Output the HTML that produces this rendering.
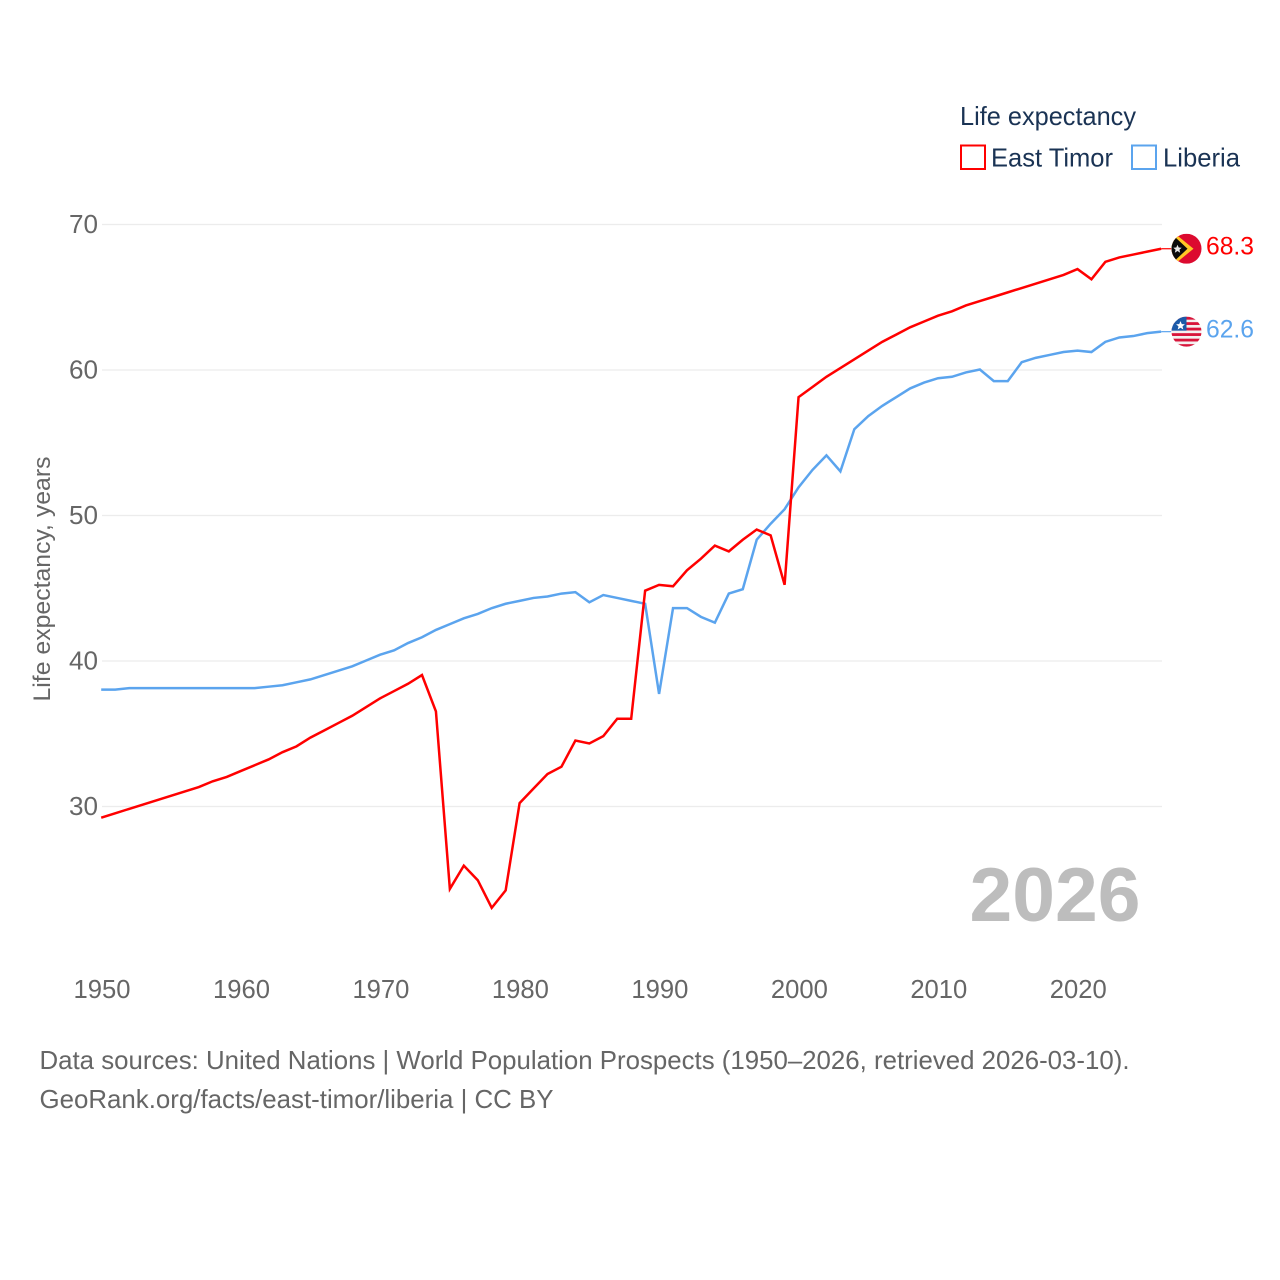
<!DOCTYPE html>
<html lang="en">
<head>
<meta charset="utf-8">
<title>Life expectancy: East Timor and Liberia</title>
<style>
html,body{margin:0;padding:0;background:#fff;}
svg{display:block;}
text{font-family:"Liberation Sans",sans-serif;}
</style>
</head>
<body>
<svg id="chart" xmlns="http://www.w3.org/2000/svg" width="1280" height="1280" viewBox="0 0 1280 1280">
  <rect x="0" y="0" width="1280" height="1280" fill="#ffffff"/>
  <g id="grid"></g>
  <g id="y-ticks"></g>
  <g id="x-ticks"></g>
  <text transform="translate(50,579) rotate(-90)" text-anchor="middle" font-size="24" fill="#666666" textLength="245" lengthAdjust="spacingAndGlyphs">Life expectancy, years</text>

  <g id="series" transform="translate(-0.8,-0.5)"></g>

  <text x="969.5" y="921" font-size="76" font-weight="bold" fill="#bdbdbd" textLength="171" lengthAdjust="spacingAndGlyphs">2026</text>

  <g>
    <text x="960" y="125" font-size="26" fill="#1a3354" textLength="176" lengthAdjust="spacingAndGlyphs">Life expectancy</text>
    <rect x="961" y="145.5" width="24" height="23.5" fill="#ffffff" stroke="#ff0000" stroke-width="2"/>
    <text x="991" y="166.5" font-size="26" fill="#1a3354" textLength="122" lengthAdjust="spacingAndGlyphs">East Timor</text>
    <rect x="1132" y="145.5" width="24" height="23.5" fill="#ffffff" stroke="#5ba4ee" stroke-width="2"/>
    <text x="1163" y="166.5" font-size="26" fill="#1a3354" textLength="77" lengthAdjust="spacingAndGlyphs">Liberia</text>
  </g>

  <defs>
    <clipPath id="clip-tl"><circle cx="0" cy="0" r="15"/></clipPath>
    <clipPath id="clip-lr"><circle cx="0" cy="0" r="15"/></clipPath>
  </defs>
  <g id="flag-east-timor" clip-path="url(#clip-tl)">
    <rect x="-15" y="-15" width="30" height="30" fill="#dc0a2f"/>
    <polygon points="7,0 -15,-18 -15,18" fill="#ffc726"/>
    <polygon points="1,0 -15,-15 -15,15" fill="#0b0b0b"/>
    <polygon points="-9,-4 -7.8,-1.2 -4.8,-1 -7.1,1 -6.3,4 -9,2.3 -11.7,4 -10.9,1 -13.2,-1 -10.2,-1.2" fill="#e8e8e8"/>
  </g>
  <g id="flag-liberia" clip-path="url(#clip-lr)">
    <rect x="-15" y="-15" width="30" height="30" fill="#f4f0f0"/>
    <rect x="-15" y="-15" width="30" height="3" fill="#d8143a"/>
    <rect x="-15" y="-9.5" width="30" height="2.8" fill="#d8143a"/>
    <rect x="-15" y="-4" width="30" height="2.8" fill="#d8143a"/>
    <rect x="-15" y="1.5" width="30" height="2.8" fill="#d8143a"/>
    <rect x="-15" y="7" width="30" height="2.8" fill="#d8143a"/>
    <rect x="-15" y="12.5" width="30" height="2.8" fill="#d8143a"/>
    <rect x="-15" y="-15" width="15" height="14" fill="#1c5aa8"/>
    <polygon points="-6,-10.5 -4.7,-7.6 -1.6,-7.4 -4,-5.3 -3.2,-2.2 -6,-3.9 -8.8,-2.2 -8,-5.3 -10.4,-7.4 -7.3,-7.6" fill="#ffffff"/>
  </g>
  <text id="value-east-timor" x="1206" y="254" font-size="25" fill="#ff0000" textLength="48" lengthAdjust="spacingAndGlyphs"></text>
  <text id="value-liberia" x="1206" y="337" font-size="25" fill="#5ba4ee" textLength="48" lengthAdjust="spacingAndGlyphs"></text>

  <text x="39.5" y="1069" font-size="26" fill="#666666" textLength="1090" lengthAdjust="spacingAndGlyphs">Data sources: United Nations | World Population Prospects (1950–2026, retrieved 2026-03-10).</text>
  <text x="39.5" y="1108" font-size="26" fill="#666666" textLength="514" lengthAdjust="spacingAndGlyphs">GeoRank.org/facts/east-timor/liberia | CC BY</text>
</svg>
<script>
var startYear = 1950;
var xTickLabels = [1950, 1960, 1970, 1980, 1990, 2000, 2010, 2020];
var yTickLabels = [30, 40, 50, 60, 70];
var eastTimor = [
  29.2,29.5,29.8,30.1,30.4,30.7,31.0,31.3,31.7,32.0,
  32.4,32.8,33.2,33.7,34.1,34.7,35.2,35.7,36.2,36.8,
  37.4,37.9,38.4,39.0,36.5,24.3,25.9,24.9,23.0,24.2,
  30.2,31.2,32.2,32.7,34.5,34.3,34.8,36.0,36.0,44.8,
  45.2,45.1,46.2,47.0,47.9,47.5,48.3,49.0,48.6,45.2,
  58.1,58.8,59.5,60.1,60.7,61.3,61.9,62.4,62.9,63.3,
  63.7,64.0,64.4,64.7,65.0,65.3,65.6,65.9,66.2,66.5,
  66.9,66.2,67.4,67.7,67.9,68.1,68.3
];
var liberia = [
  38.0,38.0,38.1,38.1,38.1,38.1,38.1,38.1,38.1,38.1,
  38.1,38.1,38.2,38.3,38.5,38.7,39.0,39.3,39.6,40.0,
  40.4,40.7,41.2,41.6,42.1,42.5,42.9,43.2,43.6,43.9,
  44.1,44.3,44.4,44.6,44.7,44.0,44.5,44.3,44.1,43.9,
  37.7,43.6,43.6,43.0,42.6,44.6,44.9,48.3,49.4,50.4,
  51.9,53.1,54.1,53.0,55.9,56.8,57.5,58.1,58.7,59.1,
  59.4,59.5,59.8,60.0,59.2,59.2,60.5,60.8,61.0,61.2,
  61.3,61.2,61.9,62.2,62.3,62.5,62.6
];
var NS = 'http://www.w3.org/2000/svg';
function xScale(year) { return 102 + (year - 1950) * 13.947; }
function yScale(v) { return 806.5 - (v - 30) * 14.55; }
function make(tag, parent, attrs) {
  var el = document.createElementNS(NS, tag);
  for (var k in attrs) { el.setAttribute(k, attrs[k]); }
  parent.appendChild(el);
  return el;
}
var gridG = document.getElementById('grid');
var yG = document.getElementById('y-ticks');
var xG = document.getElementById('x-ticks');
var seriesG = document.getElementById('series');
yTickLabels.forEach(function (v) {
  var line = make('line', gridG, { x1: 102, x2: 1162, y1: yScale(v), y2: yScale(v), stroke: '#ececec', 'stroke-width': 1.2 });
  
  
  var t = make('text', yG, { x: 98, y: yScale(v) + 8.3, 'text-anchor': 'end', 'font-size': 26, fill: '#666666', textLength: 29, lengthAdjust: 'spacingAndGlyphs' });
  t.textContent = v;
  
  
});
xTickLabels.forEach(function (y) {
  var t = make('text', xG, { x: xScale(y), y: 998, 'text-anchor': 'middle', 'font-size': 26, fill: '#666666', textLength: 57, lengthAdjust: 'spacingAndGlyphs' });
  t.textContent = y;
  
  
});
function drawSeries(values, color, name, flagId, valueId) {
  var pts = values.map(function (v, i) { return xScale(startYear + i).toFixed(2) + ',' + yScale(v).toFixed(2); }).join(' ');
  var line = make('polyline', seriesG, { points: pts, fill: 'none', stroke: color, 'stroke-width': 2.5, 'stroke-linejoin': 'miter' });
  
  
  var lastV = values[values.length - 1];
  var lastX = xScale(startYear + values.length - 1);
  var lastY = yScale(lastV);
  var conn = make('line', seriesG, { x1: lastX, x2: 1172, y1: lastY, y2: lastY, stroke: color, 'stroke-width': 1.2 });
  
  
  document.getElementById(flagId).setAttribute('transform', 'translate(1186.5,' + (lastY - 0.5) + ')');
  var lab = document.getElementById(valueId);
  lab.textContent = lastV.toFixed(1);
  lab.setAttribute('y', lastY + 5.5);
}
drawSeries(liberia, '#5ba4ee', 'liberia', 'flag-liberia', 'value-liberia');
drawSeries(eastTimor, '#ff0000', 'east-timor', 'flag-east-timor', 'value-east-timor');
</script>
</body>
</html>
